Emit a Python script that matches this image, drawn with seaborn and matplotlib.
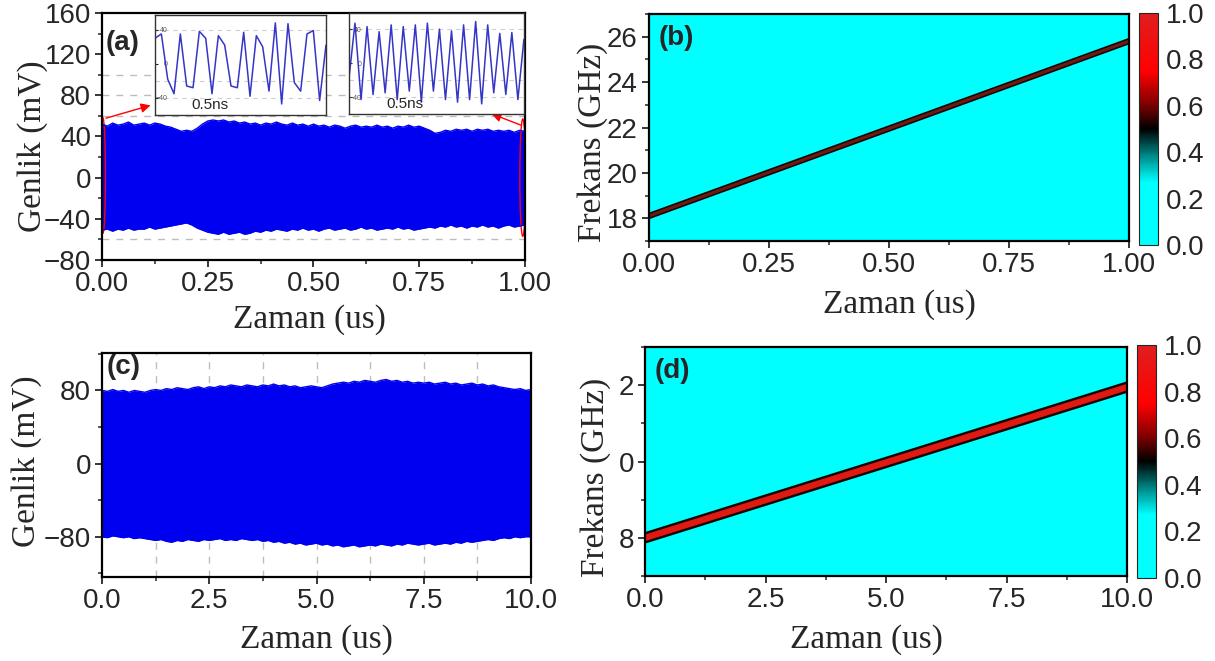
import numpy as np
import matplotlib
matplotlib.use("Agg")
import matplotlib.pyplot as plt
import seaborn as sns
from matplotlib.colors import LinearSegmentedColormap, Normalize
from matplotlib.cm import ScalarMappable
from matplotlib.patches import Ellipse
from matplotlib.ticker import MultipleLocator, FixedLocator

# envelope of the signal in (a), 0..1 us
env_a_upper = [52, 50, 53, 51, 52, 54, 51, 52, 53, 51, 53, 52, 50, 49, 47, 45, 46, 45, 48, 52,
               55, 56, 55, 56, 54, 55, 53, 54, 52, 53, 51, 53, 52, 54, 52, 51, 53, 51, 52, 50,
               52, 50, 51, 49, 51, 50, 48, 50, 51, 49, 50, 49, 51, 49, 50, 48, 50, 49, 51, 49,
               50, 48, 46, 43, 44, 46, 45, 47, 46, 47, 45, 47, 46, 47, 45, 46, 45, 46, 44, 46,
               45]
env_a_lower = [-51, -50, -52, -50, -51, -49, -51, -50, -50, -48, -50, -49, -48, -47, -46, -45,
               -44, -46, -49, -51, -53, -54, -55, -53, -55, -54, -53, -55, -54, -52, -53, -51,
               -52, -50, -51, -52, -50, -51, -49, -51, -50, -52, -50, -49, -51, -50, -49, -51,
               -50, -48, -50, -49, -51, -50, -49, -50, -48, -50, -49, -51, -50, -49, -48, -49,
               -47, -48, -46, -48, -47, -49, -47, -48, -46, -48, -47, -49, -47, -46, -48, -47,
               -46]
# envelope of the signal in (c), 0..10 us
env_c_upper = [80, 79, 81, 79, 80, 78, 80, 79, 78, 80, 81, 80, 82, 81, 83, 82, 81, 83, 84, 82,
               84, 83, 85, 84, 86, 85, 84, 86, 85, 84, 86, 85, 87, 85, 86, 84, 85, 83, 84, 85,
               84, 83, 85, 87, 88, 89, 88, 90, 89, 91, 90, 89, 91, 92, 90, 91, 89, 90, 88, 89,
               88, 89, 87, 88, 89, 87, 88, 86, 87, 88, 86, 87, 85, 86, 84, 83, 82, 81, 82, 80,
               81]
env_c_lower = [-80, -81, -79, -80, -81, -80, -82, -81, -82, -83, -84, -83, -85, -86, -84, -85,
               -83, -84, -85, -83, -84, -83, -82, -84, -83, -84, -82, -83, -84, -83, -85, -84,
               -86, -85, -87, -86, -88, -87, -89, -88, -87, -89, -88, -90, -89, -91, -90, -89,
               -91, -90, -89, -90, -88, -89, -90, -88, -89, -87, -88, -89, -88, -87, -89, -88,
               -87, -88, -86, -87, -85, -86, -85, -84, -83, -84, -82, -81, -82, -80, -81, -80,
               -80]

# zoomed waveforms (insets), mV
inset1_v = [30, 35, -18, -35, 35, -26, -28, 38, 30, -35, 33, 22, -26, -28, 37, -38, 33, 20, -32,
            48, -47, 47, -22, -32, 35, 39, -43, 22]
inset2_v = [-18, 47, -43, 43, -37, 37, -35, 45, -43, 43, -33, 45, -46, 47, -33, 40, -43, 38, -46,
            45, -43, 49, -48, 45, -35, 35, -37, 36, -43, 28]

# chirp (time, frequency)
chirp_b_t = [0.0, 1.0]
chirp_b_f = [18.1, 25.8]
chirp_d_t = [0.0, 10.0]
chirp_d_f = [8.0, 11.95]
cbar_ticks = [0.0, 0.2, 0.4, 0.6, 0.8, 1.0]

sns.set_style("ticks")
plt.rcParams['font.family'] = ['Liberation Sans', 'DejaVu Sans']
plt.rcParams['xtick.labelsize'] = 20
plt.rcParams['ytick.labelsize'] = 20

serif = dict(family='Liberation Serif', size=24)
blue = '#0000f0'
grid_kw = dict(color='#bdbdbd', ls=(0, (5, 5)), lw=1.0)

cmap = LinearSegmentedColormap.from_list('cbr', [
    (0.0, (0, 1, 1)), (0.27, (0, 1, 1)), (0.38, (0, 0.55, 0.55)), (0.5, (0, 0, 0)),
    (0.62, (0.55, 0, 0)), (0.75, (1, 0, 0)), (1.0, (0.88, 0.12, 0.12))])

fig = plt.figure(figsize=(12.15, 6.61), dpi=100)


def style_axes(ax):
    for s in ax.spines.values():
        s.set_linewidth(1.6)
        s.set_color('black')
    ax.tick_params(which='major', direction='out', length=5, width=1.3, pad=3)
    ax.tick_params(which='minor', direction='out', length=3, width=1.1)


# (a)
ax_a = fig.add_axes([0.084, 0.6067, 0.348, 0.3737])
t_a = np.linspace(0, 1, len(env_a_upper))
for yv in [100, 80, 60, -60]:
    ax_a.axhline(yv, zorder=0, **grid_kw)
ax_a.fill_between(t_a, env_a_lower, env_a_upper, color=blue, lw=0)
sns.lineplot(x=t_a, y=env_a_upper, ax=ax_a, color=blue, lw=1)
sns.lineplot(x=t_a, y=env_a_lower, ax=ax_a, color=blue, lw=1)
ax_a.set_xlim(0, 1)
ax_a.set_ylim(-80, 160)
ax_a.xaxis.set_major_locator(MultipleLocator(0.25))
ax_a.xaxis.set_minor_locator(MultipleLocator(0.125))
ax_a.yaxis.set_major_locator(MultipleLocator(40))
ax_a.yaxis.set_minor_locator(MultipleLocator(20))
ax_a.xaxis.set_major_formatter(lambda v, p: f"{v:.2f}")
style_axes(ax_a)
ax_a.add_patch(Ellipse((0.002, 2), 0.012, 112, fill=False, ec='red', lw=1))
ax_a.add_patch(Ellipse((0.995, 0), 0.014, 114, fill=False, ec='red', lw=1))
ax_a.annotate('', xy=(0.121, 71), xytext=(0.003, 57),
              arrowprops=dict(arrowstyle='-|>', color='red', lw=1, mutation_scale=14))
ax_a.annotate('', xy=(0.915, 63), xytext=(0.997, 50),
              arrowprops=dict(arrowstyle='-|>', color='red', lw=1, mutation_scale=14))
ax_a.text(0.008, 0.93, '(a)', transform=ax_a.transAxes, fontsize=20, fontweight='bold', va='top')
ax_a.set_xlabel('Zaman (us)', **serif)
ax_a.xaxis.set_label_coords(0.49, -0.178)
ax_a.set_ylabel('Genlik (mV)', **serif)
ax_a.yaxis.set_label_coords(-0.128, 0.46)

# insets of (a)
for rect, vals, ylim in [([0.1276, 0.826, 0.1407, 0.151], inset1_v, (-60, 57)),
                         ([0.2872, 0.8275, 0.144, 0.1528], inset2_v, (-60, 59))]:
    ins = fig.add_axes(rect)
    ins.set_facecolor('white')
    for yv in [40, -20, -40]:
        ins.axhline(yv, zorder=0, color='#cfcfcf', ls=(0, (4, 4)), lw=0.8)
    tt = np.linspace(0, 1, len(vals))
    sns.lineplot(x=tt, y=vals, ax=ins, color='#3535c8', lw=1.1)
    ins.set_xlim(0, 1)
    ins.set_ylim(*ylim)
    ins.set_xticks([])
    ins.set_yticks([-40, 0, 40])
    ins.tick_params(axis='y', direction='in', length=2, pad=-9, labelsize=5, labelcolor='#555555')
    for s in ins.spines.values():
        s.set_linewidth(1)
        s.set_color('#333333')
    ins.text(0.32, 0.03, '0.5ns', transform=ins.transAxes, fontsize=11, va='bottom', ha='center')

# (c)
ax_c = fig.add_axes([0.084, 0.1271, 0.353, 0.3389])
t_c = np.linspace(0, 10, len(env_c_upper))
for xv in [1.25, 2.5, 3.75, 5.0, 6.25, 7.5, 8.75]:
    ax_c.axvline(xv, zorder=0, **grid_kw)
ax_c.fill_between(t_c, env_c_lower, env_c_upper, color=blue, lw=0)
sns.lineplot(x=t_c, y=env_c_upper, ax=ax_c, color=blue, lw=1)
sns.lineplot(x=t_c, y=env_c_lower, ax=ax_c, color=blue, lw=1)
ax_c.set_xlim(0, 10)
ax_c.set_ylim(-124, 121)
ax_c.xaxis.set_major_locator(MultipleLocator(2.5))
ax_c.xaxis.set_minor_locator(MultipleLocator(1.25))
ax_c.yaxis.set_major_locator(MultipleLocator(80))
ax_c.yaxis.set_minor_locator(MultipleLocator(40))
ax_c.xaxis.set_major_formatter(lambda v, p: f"{v:.1f}")
style_axes(ax_c)
ax_c.text(0.01, 0.995, '(c)', transform=ax_c.transAxes, fontsize=20, fontweight='bold', va='top')
ax_c.set_xlabel('Zaman (us)', **serif)
ax_c.xaxis.set_label_coords(0.50, -0.21)
ax_c.set_ylabel('Genlik (mV)', **serif)
ax_c.yaxis.set_label_coords(-0.14, 0.518)


def chirp_panel(rect, crect, t, f, xlim, ylim, xmaj, ymaj, yticklabels, fmt, label,
                core, edge_w, core_w, xl, yl):
    ax = fig.add_axes(rect)
    ax.set_facecolor('#00ffff')
    sns.lineplot(x=t, y=f, ax=ax, color='#1a0505', lw=edge_w)
    sns.lineplot(x=t, y=f, ax=ax, color=core, lw=core_w)
    ax.set_xlim(*xlim)
    ax.set_ylim(*ylim)
    ax.xaxis.set_major_locator(MultipleLocator(xmaj))
    ax.xaxis.set_minor_locator(MultipleLocator(xmaj / 2))
    ax.yaxis.set_minor_locator(MultipleLocator(ymaj / 2))
    ax.yaxis.set_major_locator(FixedLocator(yticklabels[0]))
    ax.set_yticklabels(yticklabels[1])
    ax.xaxis.set_major_formatter(lambda v, p: fmt.format(v))
    style_axes(ax)
    ax.text(0.02, 0.95, label, transform=ax.transAxes, fontsize=20, fontweight='bold', va='top')
    ax.set_xlabel('Zaman (us)', **serif)
    ax.xaxis.set_label_coords(*xl)
    ax.set_ylabel('Frekans (GHz)', **serif)
    ax.yaxis.set_label_coords(*yl)
    cax = fig.add_axes(crect)
    cb = fig.colorbar(ScalarMappable(norm=Normalize(0, 1), cmap=cmap), cax=cax)
    cb.set_ticks(cbar_ticks)
    cb.ax.yaxis.set_major_formatter(lambda v, p: f"{v:.1f}")
    cb.ax.tick_params(length=0, pad=6, labelsize=20)
    cb.outline.set_linewidth(0.8)
    return ax


chirp_panel([0.534, 0.6354, 0.395, 0.3434], [0.9374, 0.6293, 0.0156, 0.351],
            chirp_b_t, chirp_b_f, (0, 1), (17, 27), 0.25, 2,
            ([18, 20, 22, 24, 26], ['18', '20', '22', '24', '26']), "{:.2f}", '(b)',
            '#6a1c14', 4.5, 2.2, (0.523, -0.211), (-0.085, 0.436))
chirp_panel([0.5309, 0.1286, 0.3967, 0.3464], [0.9358, 0.1256, 0.0156, 0.3525],
            chirp_d_t, chirp_d_f, (0, 10), (7, 13), 2.5, 2,
            ([8, 10, 12], ['8', '0', '2']), "{:.1f}", '(d)',
            '#e01a12', 8, 4.5, (0.46, -0.21), (-0.07, 0.432))

fig.savefig('out.png', dpi=100)
